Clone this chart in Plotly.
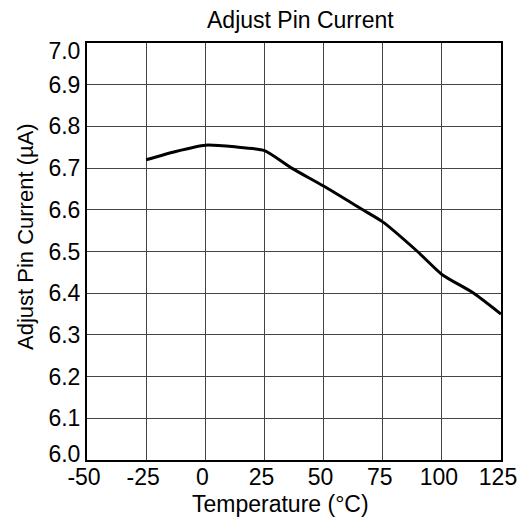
import plotly.graph_objects as go

temperature = [-25, -12.5, 0, 12.5, 25, 36.5, 50, 66.6, 75, 89.7, 100, 113.5, 125]
current = [6.72, 6.74, 6.755, 6.751, 6.742, 6.70, 6.657, 6.60, 6.571, 6.50, 6.445, 6.40, 6.35]

x_ticks = [-50, -25, 0, 25, 50, 75, 100, 125]
y_ticks = [6.0, 6.1, 6.2, 6.3, 6.4, 6.5, 6.6, 6.7, 6.8, 6.9, 7.0]

font = "Liberation Sans, Arial, sans-serif"
FS = 23
W = H = 519
L, R, T, B = 87, 18, 43, 59
pw, ph = W - L - R, H - T - B


def px(xpix):
    return (xpix - L) / pw


def py(ypix):
    return (H - B - ypix) / ph


y_min, y_max = y_ticks[0], y_ticks[-1]
inner_labels = [f"{v:.1f}" if y_min < v < y_max else "" for v in y_ticks]

fig = go.Figure()
fig.add_trace(go.Scatter(x=temperature, y=current, mode="lines",
                         line=dict(color="black", width=3, shape="spline", smoothing=0.6),
                         showlegend=False))
# helper (invisible) traces so the end-label axes are drawn
for ax in ("y2", "y3"):
    fig.add_trace(go.Scatter(x=temperature, y=current, yaxis=ax, mode="lines",
                             line=dict(color="rgba(0,0,0,0)", width=0),
                             hoverinfo="skip", showlegend=False))

fig.update_layout(
    width=W, height=H,
    margin=dict(l=L, r=R, t=T, b=B, autoexpand=False),
    paper_bgcolor="white", plot_bgcolor="white",
    font=dict(family=font, color="black", size=FS),
    annotations=[
        dict(text="Adjust Pin Current", xref="paper", yref="paper",
             x=px(300), y=py(20), xanchor="center", yanchor="middle",
             showarrow=False, font=dict(size=FS)),
        dict(text="Temperature (°C)", xref="paper", yref="paper",
             x=px(280), y=py(504), xanchor="center", yanchor="middle",
             showarrow=False, font=dict(size=FS)),
        dict(text="Adjust Pin Current (µA)", xref="paper", yref="paper",
             x=px(25), y=py(237), xanchor="center", yanchor="middle",
             showarrow=False, font=dict(size=22), textangle=-90),
    ],
)

fig.update_xaxes(range=[-50, 125], tickvals=x_ticks, ticktext=[str(v) for v in x_ticks],
                 showgrid=True, gridcolor="#444444", gridwidth=1,
                 showline=True, linecolor="black", linewidth=2, mirror=True,
                 ticks="", tickfont=dict(size=FS), zeroline=False, automargin=False,
                 ticklabeloverflow="allow", ticklabelshift=-3, ticklabelstandoff=-5)
end_axis = dict(overlaying="y", matches="y", side="left", range=[y_min, y_max],
                showgrid=False, showline=True, linecolor="black", linewidth=2,
                zeroline=False, ticks="", tickfont=dict(size=FS), automargin=False)
fig.update_layout(
    yaxis=dict(range=[y_min, y_max], tickvals=y_ticks, ticktext=inner_labels,
               showgrid=True, gridcolor="#444444", gridwidth=1,
               showline=True, linecolor="black", linewidth=2, mirror=True,
               ticks="", tickfont=dict(size=FS), zeroline=False, automargin=False),
    yaxis2=dict(end_axis, tickvals=[y_min], ticktext=[f"{y_min:.1f}"], ticklabelshift=-6),
    yaxis3=dict(end_axis, tickvals=[y_max], ticktext=[f"{y_max:.1f}"], ticklabelshift=8),
)

fig.write_html("out.html", config={"displayModeBar": False},
               post_script="document.body.style.margin='0';document.body.style.overflow='hidden';")
